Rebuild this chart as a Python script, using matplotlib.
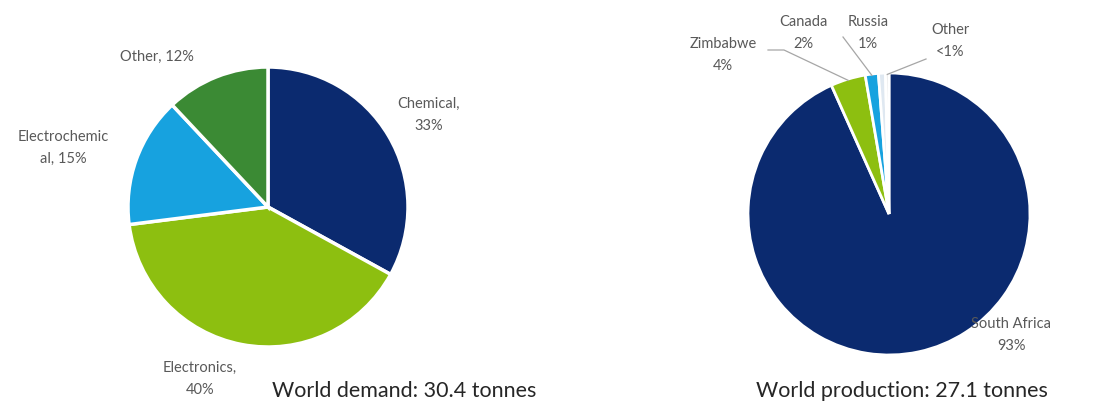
import matplotlib
matplotlib.use("Agg")
import matplotlib.pyplot as plt
import numpy as np

# ---- data ----
demand_labels = ["Chemical,\n33%", "Electronics,\n40%", "Electrochemic\nal, 15%", "Other, 12%"]
demand_values = [33, 40, 15, 12]
demand_colors = ["#0b2a6f", "#8dbf10", "#17a2df", "#3b8a34"]
demand_title = "World demand: 30.4 tonnes"

prod_labels = ["South Africa\n93%", "Zimbabwe\n4%", "Canada\n2%", "Russia\n1%", "Other\n<1%"]
prod_values = [93.3, 4.0, 1.5, 0.8, 0.4]
prod_colors = ["#0b2a6f", "#8dbf10", "#17a2df", "#dfe8f1", "#e6e6e6"]
prod_title = "World production: 27.1 tonnes"

W, H = 1104, 405
fig = plt.figure(figsize=(W / 100, H / 100), dpi=100)
ax = fig.add_axes([0, 0, 1, 1])

FONT = ["Lato", "DejaVu Sans"]
LBL = dict(fontsize=10.5, color="#595959", family=FONT, ha="center", va="center", linespacing=1.75)

def Y(y):
    return H - y

# left pie
ax.pie(demand_values, colors=demand_colors, startangle=90, counterclock=False,
       center=(268, Y(207)), radius=140,
       wedgeprops=dict(edgecolor="white", linewidth=2.5))

# right pie
cx, cy, r = 889, Y(214), 141
wedges, _ = ax.pie(prod_values, colors=prod_colors, startangle=90, counterclock=False,
                   center=(cx, cy), radius=r,
                   wedgeprops=dict(edgecolor="white", linewidth=2))

ax.set_xlim(0, W)
ax.set_ylim(0, H)
ax.set_aspect("equal")
ax.axis("off")

left_pos = [(429, 115), (200, 379), (63, 148), (157, 57)]
for lab, (x, y) in zip(demand_labels, left_pos):
    ax.text(x, Y(y), lab, **LBL)
ax.text(404, Y(391), demand_title, fontsize=15.5, color="#262626", family=FONT,
        ha="center", va="center")

right_pos = [(1011, 335), (723, 55), (803, 33), (868, 33), (950, 41)]
for lab, (x, y) in zip(prod_labels, right_pos):
    ax.text(x, Y(y), lab, **LBL)

# leader lines for small slices
starts = {1: (768, 50), 2: (843, 37), 4: (926, 59)}
for i, (sx, sy) in starts.items():
    w = wedges[i]
    ang = np.deg2rad((w.theta1 + w.theta2) / 2)
    ex, ey = cx + r * 0.99 * np.cos(ang), cy + r * 0.99 * np.sin(ang)
    if i == 1:
        ax.plot([sx, sx + 16, ex], [Y(sy), Y(sy), ey], color="#a6a6a6", lw=0.9)
    else:
        ax.plot([sx, ex], [Y(sy), ey], color="#a6a6a6", lw=0.9)

ax.text(902, Y(391), prod_title, fontsize=15.5, color="#262626", family=FONT,
        ha="center", va="center")

fig.savefig("out.png", dpi=100, facecolor="white")
